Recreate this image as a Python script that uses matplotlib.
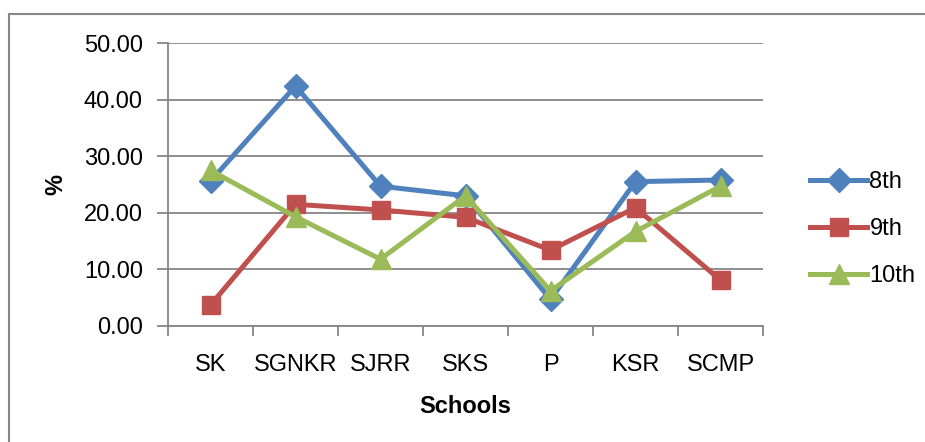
import matplotlib
matplotlib.use("Agg")
import matplotlib.pyplot as plt
from matplotlib.patches import Rectangle

plt.rcParams['font.family'] = ['Liberation Sans Narrow', 'Liberation Sans', 'DejaVu Sans']

schools = ["SK", "SGNKR", "SJRR", "SKS", "P", "KSR", "SCMP"]
grade8 = [25.6, 42.4, 24.7, 23.0, 4.7, 25.5, 25.8]
grade9 = [3.7, 21.5, 20.5, 19.2, 13.4, 20.9, 8.1]
grade10 = [27.5, 19.3, 11.8, 23.0, 6.2, 16.7, 24.7]
yticks = [0, 10, 20, 30, 40, 50]

series = [
    ("8th", grade8, "#4F81BD", "D", 12),
    ("9th", grade9, "#C0504D", "s", 13),
    ("10th", grade10, "#9BBB59", "^", 14),
]

fig = plt.figure(figsize=(9.25, 4.42), dpi=100)
ax = fig.add_axes([168 / 925, 116 / 442, 595 / 925, 283 / 442])

x = list(range(len(schools)))
for name, vals, col, mk, ms in series:
    ax.plot(x, vals, color=col, lw=3.6, marker=mk, markersize=ms,
            markerfacecolor=col, markeredgecolor=col, label=name, zorder=3)

grid_col = "#868686"
ax.set_ylim(0, 50)
ax.set_xlim(-0.5, len(schools) - 0.5)
ax.set_yticks(yticks)
ax.set_yticklabels([f"{v:.2f}" for v in yticks])
ax.yaxis.grid(True, color=grid_col, lw=1.3)
ax.set_axisbelow(True)

# category ticks sit between the labels
ax.set_xticks([i - 0.5 for i in range(len(schools) + 1)])
ax.set_xticklabels([])
ax.set_xticks(x, minor=True)
ax.set_xticklabels(schools, minor=True)
ax.tick_params(axis="x", which="minor", length=0, pad=20, labelsize=17)
ax.tick_params(axis="x", which="major", length=7, width=1.3, color=grid_col)
ax.tick_params(axis="y", length=8, width=1.3, color=grid_col, labelsize=17, pad=10)

for side in ["top", "right"]:
    ax.spines[side].set_visible(False)
for side in ["left", "bottom"]:
    ax.spines[side].set_color(grid_col)
    ax.spines[side].set_linewidth(1.3)

ax.set_xlabel("Schools", fontsize=17, fontweight="bold", labelpad=14)
ax.set_ylabel("%", fontsize=17, fontweight="bold", labelpad=12)

leg = ax.legend(loc="center left", bbox_to_anchor=(801 / 925, 1 - 229 / 442),
                bbox_transform=fig.transFigure, frameon=False, fontsize=17,
                handlelength=2.4, handletextpad=0.1, labelspacing=1.05,
                borderaxespad=0)

# chart area border (cropped on right and bottom)
fig.patches.append(Rectangle((9 / 925, -0.1), 1.2, 1.1 - 14 / 442,
                             transform=fig.transFigure, fill=False,
                             edgecolor=grid_col, lw=1.5))

fig.savefig("out.png", dpi=100)
